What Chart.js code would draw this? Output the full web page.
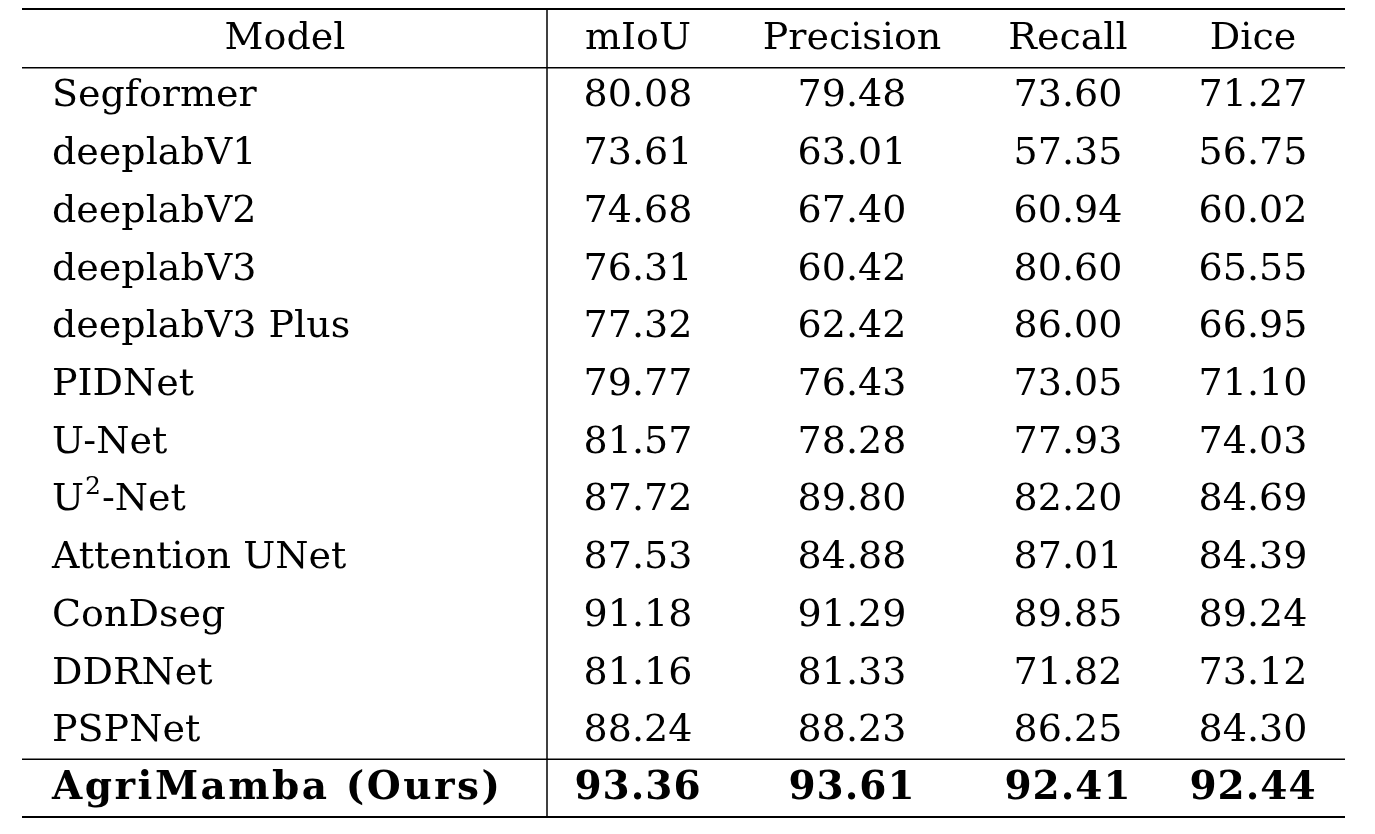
<!DOCTYPE html>
<html><head><meta charset="utf-8">
<script src="https://cdn.jsdelivr.net/npm/chart.js@4"></script>
<style>html,body{margin:0;background:#fff}#wrap{width:1375px;height:834px}</style>
</head><body><div id="wrap"><canvas id="c"></canvas></div>
<script>
const columns = ["Model","mIoU","Precision","Recall","Dice"];
const models = ["Segformer","deeplabV1","deeplabV2","deeplabV3","deeplabV3 Plus","PIDNet","U-Net","U^2-Net","Attention UNet","ConDseg","DDRNet","PSPNet","AgriMamba (Ours)"];
const miou =      [80.08,73.61,74.68,76.31,77.32,79.77,81.57,87.72,87.53,91.18,81.16,88.24,93.36];
const precision = [79.48,63.01,67.40,60.42,62.42,76.43,78.28,89.80,84.88,91.29,81.33,88.23,93.61];
const recall =    [73.60,57.35,60.94,80.60,86.00,73.05,77.93,82.20,87.01,89.85,71.82,86.25,92.41];
const dice =      [71.27,56.75,60.02,65.55,66.95,71.10,74.03,84.69,84.39,89.24,73.12,84.30,92.44];
const metrics = [miou,precision,recall,dice];
const rowLabels = ["header", ...models];

const colX = [285,638,852,1068,1253];
const FONT = '"DejaVu Serif", serif';
const tablePlugin = {
  id:'table',
  afterDraw(chart){
    const ctx = chart.ctx, y = chart.scales.y;
    const half = (y.getPixelForValue(1)-y.getPixelForValue(0))/2;
    ctx.save();
    ctx.fillStyle='#000'; ctx.strokeStyle='#000'; ctx.textBaseline='middle';
    const rowY = i => y.getPixelForValue(i)+2;
    ctx.font = '38px '+FONT; ctx.textAlign='center';
    columns.forEach((c,j)=>ctx.fillText(c,colX[j],rowY(0)));
    models.forEach((m,i)=>{
      const r=i+1, bold = i===models.length-1;
      ctx.font = bold ? 'bold 39px '+FONT : '38px '+FONT;
      ctx.letterSpacing = bold ? '2.5px' : '0px';
      ctx.textAlign='left';
      if(m.includes('^')){
        const [a,rest]=m.split('^'); const sup=rest[0], tail=rest.slice(1);
        ctx.fillText(a,52,rowY(r)); let x=52+ctx.measureText(a).width;
        ctx.font='25px '+FONT; ctx.fillText(sup,x+1,rowY(r)-13); x+=ctx.measureText(sup).width+2;
        ctx.font='38px '+FONT; ctx.fillText(tail,x,rowY(r));
      } else ctx.fillText(m,52,rowY(r));
      ctx.textAlign='center';
      ctx.letterSpacing = bold ? '1px' : '0px';
      metrics.forEach((arr,j)=>ctx.fillText(arr[i].toFixed(2),colX[j+1],rowY(r)));
    });
    ctx.letterSpacing='0px';
    const c0=y.getPixelForValue(0), cN=y.getPixelForValue(models.length);
    const top=c0-half, bot=cN+half;
    const hl=(yy,w)=>{ctx.lineWidth=w;ctx.beginPath();ctx.moveTo(22,yy);ctx.lineTo(1345,yy);ctx.stroke();};
    hl(top+1,2); hl(c0+half+2,1.5); hl(cN-half+1,1.5); hl(bot+1,2);
    ctx.lineWidth=1.5; ctx.beginPath(); ctx.moveTo(547,top+1); ctx.lineTo(547,bot+1); ctx.stroke();
    ctx.restore();
  }
};
new Chart(document.getElementById('c'),{
  type:'scatter',
  data:{datasets:[{data:[]}]},
  options:{
    responsive:true,maintainAspectRatio:false,animation:false,
    layout:{padding:{top:8,bottom:18,left:0,right:0}},
    plugins:{legend:{display:false},tooltip:{enabled:false}},
    scales:{
      x:{type:'linear',display:false,min:0,max:1},
      y:{type:'category',labels:rowLabels,offset:true,display:false}
    }
  },
  plugins:[tablePlugin]
});
</script></body></html>
